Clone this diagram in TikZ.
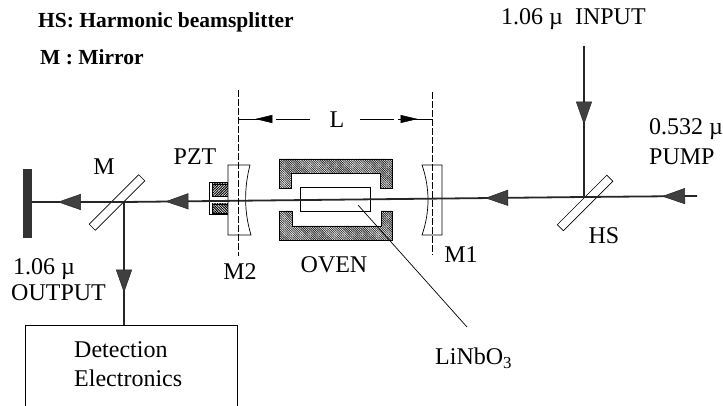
\documentclass[tikz,border=0pt]{standalone}
\usepackage{fontspec}
\setmainfont{Liberation Serif}
\usetikzlibrary{arrows.meta,decorations.markings,patterns.meta}
\tikzset{
  beam/.style = {line width=1.8pt, draw=black!85},
  mark arrow/.style = {postaction={decorate, decoration={markings,
    mark=at position #1 with {\arrow[line width=.5pt]{Triangle[length=23pt,width=16pt,fill=black!75]}}}}},
  dim arrow/.style = {postaction={decorate, decoration={markings,
    mark=at position #1 with {\arrow[line width=.5pt]{Triangle[length=17pt,width=8pt]}}}}},
  mirror/.style = {draw, fill=white, rotate=45, minimum width=70pt, minimum height=8.5pt, inner sep=0pt, line width=.7pt},
  label/.style = {font=\fontsize{24}{28}\selectfont, inner sep=0pt},
  title/.style = {font=\fontsize{21.5}{26}\selectfont\bfseries, inner sep=0pt, anchor=west},
  oven/.style = {draw, line width=.9pt, pattern={Lines[angle=-45,distance=1.6pt,line width=.8pt]}, pattern color=black!85},
  guide/.style = {dash pattern=on 7pt off 2pt, line width=.7pt},
  dimline/.style = {dash pattern=on 34pt off 4pt, line width=.7pt}
}
\begin{document}
\begin{tikzpicture}[x=1pt, y=-1pt]
  \useasboundingbox (0,0) rectangle (723,406);

  % beam coordinates
  \coordinate (pump) at (697,196);
  \coordinate (input) at (584,46);
  \coordinate (hit) at (584,197);
  \coordinate (split) at (124,202);
  \coordinate (wall) at (32,202);
  \coordinate (m2top) at (238,90);
  \coordinate (m2bot) at (238,256);
  \coordinate (m1top) at (432,92);
  \coordinate (m1bot) at (432,255);
  \coordinate (dimleft) at (238,119);
  \coordinate (dimright) at (432,119);
  \coordinate (leadtop) at (358,205);
  \coordinate (leadend) at (467,327);

  % oven
  \draw[oven] (279,159) -- (392,159) -- (392,188) -- (380,188) -- (380,173) -- (291,173) -- (291,188) -- (279,188) -- cycle;
  \draw[oven] (279,240) -- (392,240) -- (392,211) -- (381,211) -- (381,226) -- (292,226) -- (292,211) -- (279,211) -- cycle;
  \node[draw, line width=.8pt, minimum width=70pt, minimum height=24pt, inner sep=0pt] (crystal) at (335,199) {};

  % PZT and cavity mirrors
  \node[draw, fill=white, line width=.8pt, minimum width=20pt, minimum height=32pt, inner sep=0pt] (pzt) at (219,198) {};
  \draw[fill=black!35, pattern={Lines[angle=45,distance=1.8pt,line width=1pt]}] (212,184) rectangle (228,196);
  \draw[fill=black!35, pattern={Lines[angle=-45,distance=1.8pt,line width=1pt]}] (212,204) rectangle (228,213);
  \draw[fill=white, line width=.7pt] (228,165) -- (250,165) .. controls (244,188) and (244,212) .. (251,235) -- (228,235) -- cycle;
  \draw[fill=white, line width=.7pt] (442,165) -- (422,165) .. controls (430,188) and (430,212) .. (422,235) -- (442,235) -- cycle;

  % beams
  \draw[beam, mark arrow=.52] (input) -- (hit);
  \draw[beam, mark arrow=.31] (pump) -- (hit);
  \draw[beam, mark arrow=.215, mark arrow=.91] (hit) -- (split);
  \draw[beam, mark arrow=.72] (split) -- (wall);
  \node[mirror] (hsmirror) at (585,203) {};
  \node[mirror] (mmirror) at (117,202.5) {};
  \draw[beam] (hit) -- (600,197);
  \draw[beam] (split) -- (105,202);

  % wall and detection box
  \node[fill=black!80, minimum width=9pt, minimum height=69pt, inner sep=0pt] (stop) at (27.5,203.5) {};
  \node[draw, line width=.9pt, minimum width=212pt, minimum height=85pt, inner sep=0pt] (detect) at (131,367.5) {};
  \draw[beam, mark arrow=.74] (split) -- (detect.north -| split);

  % cavity length
  \draw[guide] (m2top) -- (m2bot);
  \draw[guide] (m1top) -- (m1bot);
  \node[label] (length) at (337,120) {L};
  \draw[dimline, dim arrow=.76] (310,119) -- (dimleft);
  \draw[dimline, dim arrow=.8] (360,119) -- (dimright);

  % labels
  \node[title] (hslabel) at (38,22) {HS: Harmonic beamsplitter};
  \node[title] (mlabel) at (40,57) {M : Mirror};
  \node[label, anchor=west] (inputlabel) at (501,19) {1.06 µ\ \ INPUT};
  \node[label, anchor=west] (pumpa) at (649,129) {0.532 µ};
  \node[label, anchor=west] (pumpb) at (649,157) {PUMP};
  \node[label] (hstext) at (604,236) {HS};
  \node[label] (m1text) at (461,255) {M1};
  \node[label] (m2text) at (240,272) {M2};
  \node[label] (oventext) at (334,265) {OVEN};
  \node[label] (pzttext) at (195,157) {PZT};
  \node[label] (mtext) at (104,167) {M};
  \node[label, anchor=west] (outa) at (13,269) {1.06 µ};
  \node[label, anchor=west] (outb) at (11,293) {OUTPUT};
  \node[label, anchor=west] (deta) at (74,350) {Detection};
  \node[label, anchor=west] (detb) at (74,378) {Electronics};
  \node[label, anchor=west] (linbo) at (435,358) {LiNbO\textsubscript{3}};
  \draw[line width=.7pt] (leadtop) -- (leadend);
\end{tikzpicture}
\end{document}
